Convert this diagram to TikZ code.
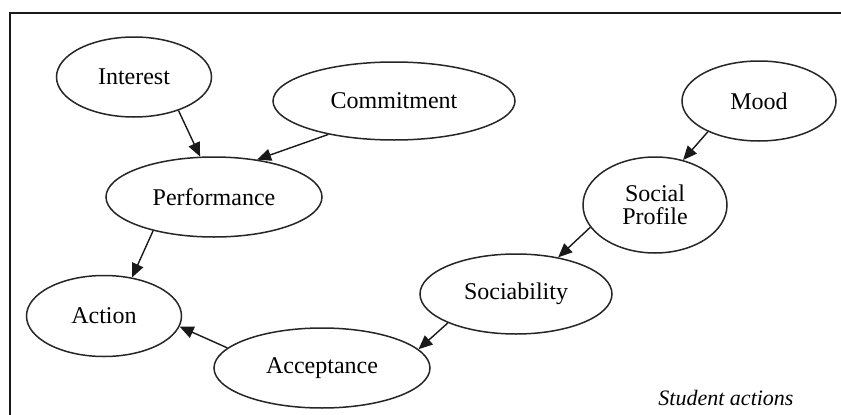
\documentclass[tikz,border=0pt]{standalone}
\usepackage{fontspec}
\setmainfont{Liberation Serif}
\usetikzlibrary{shapes.geometric,arrows.meta}
\begin{document}
\begin{tikzpicture}[x=1pt,y=-1pt,
  concept/.style={ellipse,draw=black!85,line width=1.5pt,inner sep=0pt,
    font=\fontsize{24}{26}\selectfont,align=center},
  link/.style={draw=black!90,line width=1.4pt,
    -{Triangle[length=14pt,width=12pt]}},
  frameline/.style={draw=black!90,line width=2pt}]
  % canvas
  \fill[white] (0,0) rectangle (841,415);
  \useasboundingbox (0,0) rectangle (841,415);
  % frame: top and left edges only
  \coordinate (fTL) at (10,13);
  \coordinate (fTR) at (842,13);
  \coordinate (fBL) at (10,416);
  \draw[frameline] (fTR) -- (fTL) -- (fBL);

  % concepts
  \node[concept,minimum width=155pt,minimum height=80pt] (interest) at (134,77) {Interest};
  \node[concept,minimum width=242pt,minimum height=78pt] (commit) at (394,101) {Commitment};
  \node[concept,minimum width=216pt,minimum height=80pt] (perf) at (214,197) {Performance};
  \node[concept,minimum width=154pt,minimum height=80pt] (mood) at (759,101) {Mood};
  \node[concept,minimum width=144pt,minimum height=96pt] (social) at (655,205) {Social\\[-3pt]Profile};
  \node[concept,minimum width=192pt,minimum height=80pt] (sociab) at (516,294) {Sociability};
  \node[concept,minimum width=155pt,minimum height=81pt] (action) at (104,316) {Action};
  \node[concept,minimum width=216pt,minimum height=80pt] (accept) at (322,368) {Acceptance};

  % caption
  \node[font=\fontsize{22}{24}\selectfont\itshape,inner sep=0pt] (caption) at (726,398) {Student actions};

  % influences
  \draw[link] (interest.-37.7) -- (perf.109.3);
  \draw[link] (commit.207.3) -- (perf.41);
  \draw[link] (perf.209.5) -- (action.54);
  \draw[link] (mood.211.6) -- (social.58.5);
  \draw[link] (social.199.4) -- (sociab.41.2);
  \draw[link] (sociab.203.7) -- (accept.11.5);
  \draw[link] (accept.168.7) -- (action.-8.2);
\end{tikzpicture}
\end{document}
